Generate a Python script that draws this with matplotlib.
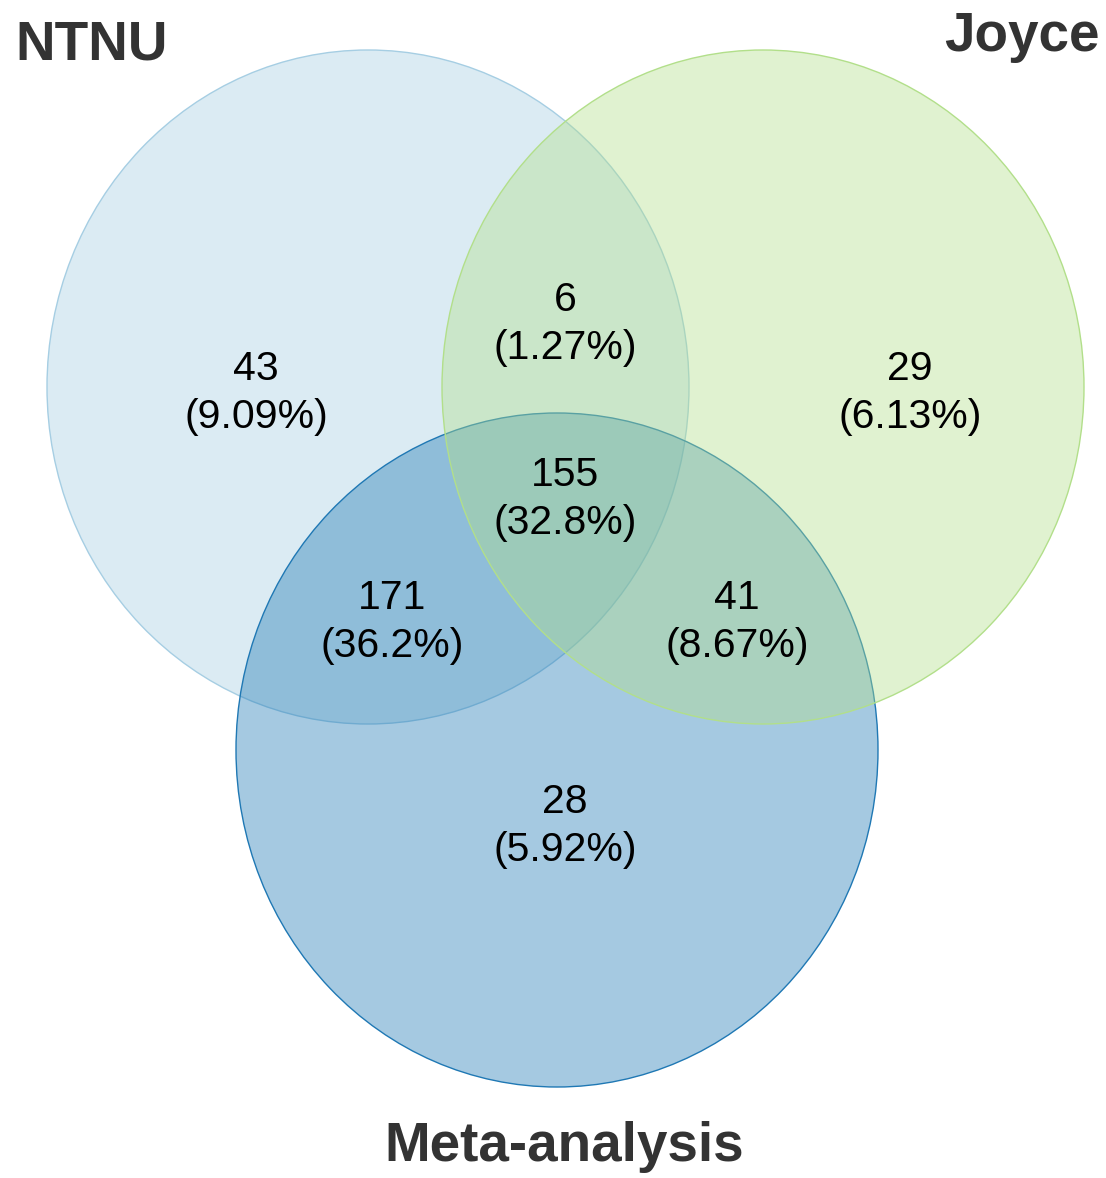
import matplotlib
matplotlib.use("Agg")
import matplotlib.pyplot as plt
from matplotlib.patches import Ellipse
from matplotlib.colors import to_rgba

# Data
set_names = ["NTNU", "Joyce", "Meta-analysis"]
set_colors = ["#a6cee3", "#b2df8a", "#1f78b4"]
region_labels = ["NTNU only", "NTNU&Joyce", "Joyce only", "All three",
                 "NTNU&Meta", "Joyce&Meta", "Meta only"]
region_counts = [43, 6, 29, 155, 171, 41, 28]

# Layout (pixel-like coordinates)
W, H = 1106, 1178
circle_centers = [(368, 387), (763, 387), (557, 750)]
draw_order = [0, 2, 1]
rx, ry = 321, 337
region_pos = [(256, 393), (565, 324), (910, 393), (565, 499),
              (392, 622), (737, 622), (565, 826)]
name_pos = [(15, 45, "left"), (1100, 37, "right"), (564, 1147, "center")]

fig = plt.figure(figsize=(W / 100, H / 100), dpi=100)
ax = fig.add_axes([0, 0, 1, 1])
ax.set_xlim(0, W)
ax.set_ylim(H, 0)
ax.axis("off")

for i in draw_order:
    cx, cy = circle_centers[i]
    col = set_colors[i]
    e = Ellipse((cx, cy), 2 * rx, 2 * ry, facecolor=to_rgba(col, 0.4),
                edgecolor=col, linewidth=1.0)
    ax.add_patch(e)

total = sum(region_counts)
for (x, y), v in zip(region_pos, region_counts):
    pct = 100 * v / total
    ax.text(x, y, f"{v}\n({pct:.3g}%)", ha="center", va="center",
            fontsize=29.5, family="Liberation Sans", color="black",
            linespacing=1.36)

for (x, y, ha), name in zip(name_pos, set_names):
    ax.text(x, y, name, ha=ha, va="center", fontsize=39.5, fontweight="bold",
            family="Liberation Sans", color="#333333")

fig.savefig("out.png", dpi=100)
